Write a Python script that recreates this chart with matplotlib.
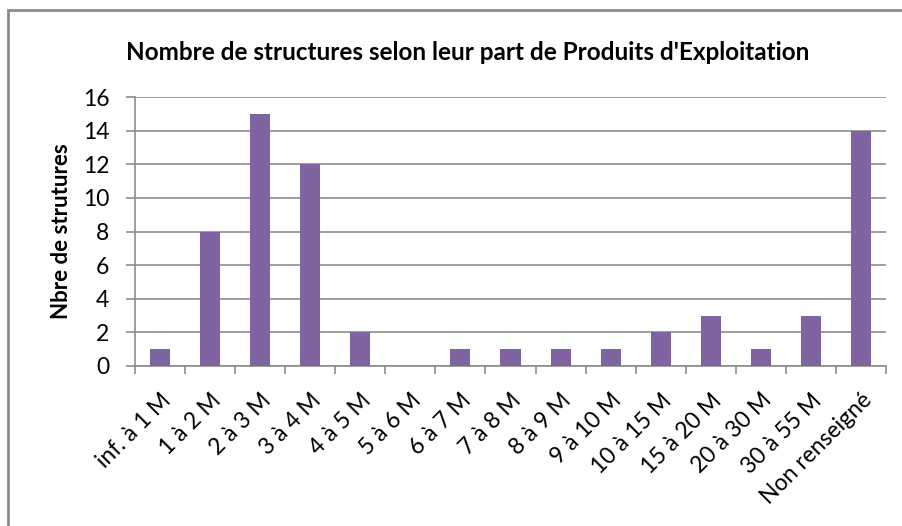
import matplotlib
matplotlib.use("Agg")
import matplotlib.pyplot as plt
from matplotlib.patches import Rectangle

categories = ["inf. à 1 M", "1 à 2 M", "2 à 3 M", "3 à 4 M", "4 à 5 M", "5 à 6 M",
              "6 à 7 M", "7 à 8 M", "8 à 9 M", "9 à 10 M", "10 à 15 M", "15 à 20 M",
              "20 à 30 M", "30 à 55 M", "Non renseigné"]
values = [1, 8, 15, 12, 2, 0, 1, 1, 1, 1, 2, 3, 1, 3, 14]
yticks = [0, 2, 4, 6, 8, 10, 12, 14, 16]

title = "Nombre de structures selon leur part de Produits d'Exploitation"
ylabel = "Nbre de strutures"

plt.rcParams['font.family'] = ['Lato', 'DejaVu Sans']

W, H = 903, 526
fig = plt.figure(figsize=(W / 100, H / 100), dpi=100)
fig.patch.set_facecolor("white")

# outer chart border (clipped at right/bottom)
fig.patches.append(Rectangle((8 / W, -0.05), 1.1, 1 - 10 / H + 0.05,
                             transform=fig.transFigure, fill=False,
                             edgecolor="#8c8c8c", linewidth=2))

left, right = 135 / W, 886 / W
bottom, top = 1 - 366 / H, 1 - 97 / H
ax = fig.add_axes([left, bottom, right - left, top - bottom])

x = list(range(len(categories)))
ax.bar(x, values, width=0.4, color="#8064A2", zorder=3)

ax.set_xlim(-0.5, len(categories) - 0.5)
ax.set_ylim(0, 16)
ax.set_yticks(yticks)
ax.set_yticklabels([str(v) for v in yticks], fontsize=16.5)

ax.grid(axis="y", color="#8c8c8c", linewidth=1.2, zorder=0)
ax.set_axisbelow(True)

# category boundary ticks
ax.set_xticks([i - 0.5 for i in range(len(categories) + 1)], minor=False)
ax.set_xticklabels([])
ax.set_xticks(x, minor=True)
ax.set_xticklabels(categories, minor=True, rotation=45, ha="right",
                   rotation_mode="anchor", fontsize=16.5)
ax.tick_params(axis="x", which="major", length=6, color="#8c8c8c", width=1.2)
ax.tick_params(axis="x", which="minor", length=0, pad=17)
ax.tick_params(axis="y", length=6.5, color="#8c8c8c", width=1.2, pad=12)

for s in ["top", "right"]:
    ax.spines[s].set_visible(False)
for s in ["left", "bottom"]:
    ax.spines[s].set_color("#8c8c8c")
    ax.spines[s].set_linewidth(1.2)

ax.set_ylabel(ylabel, fontsize=16, fontweight="bold", labelpad=8)
fig.text(468 / W, 1 - 52 / H, title, ha="center", va="center",
         fontsize=17.5, fontweight="bold")

fig.savefig("out.png", dpi=100, facecolor="white")
